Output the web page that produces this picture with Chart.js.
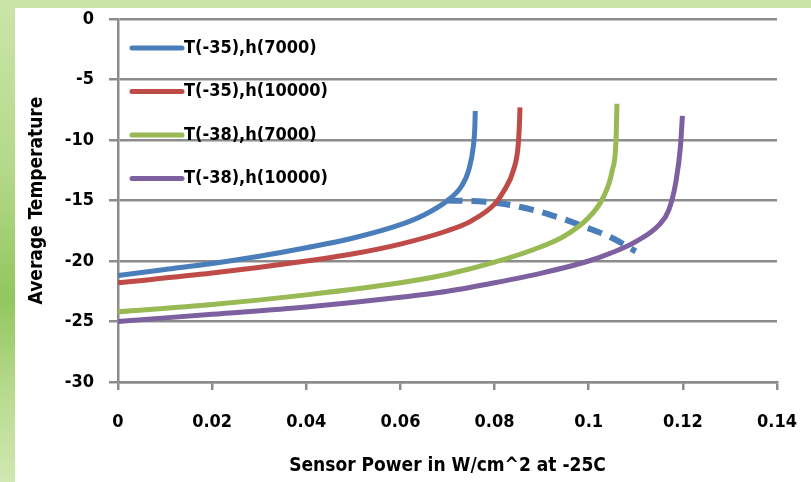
<!DOCTYPE html>
<html>
<head>
<meta charset="utf-8">
<script src="https://cdn.jsdelivr.net/npm/chart.js@4/dist/chart.umd.min.js"></script>
<style>
  body { margin: 0; width: 811px; height: 482px; overflow: hidden;
    background: linear-gradient(to bottom, #cbe5a9 0%, #b4d98a 35%, #92c65e 62%, #b9db90 82%, #d0e8b2 100%); }
  #panel { position: absolute; left: 15px; top: 8px; width: 796px; height: 474px; background: #fff; }
  #wrap { position: absolute; left: 0; top: 0; width: 811px; height: 482px; }
</style>
</head>
<body>
<div id="panel"></div>
<div id="wrap"><canvas id="chart" width="811" height="482"></canvas></div>
<script>
// Sensor power (W/cm^2) vs average temperature, four cases + dashed limit line
const seriesNames = ['T(-35),h(7000)', 'T(-35),h(10000)', 'T(-38),h(7000)', 'T(-38),h(10000)'];
const seriesColors = ['#4a7ebb', '#be4b48', '#98b954', '#7d60a0'];

const blueX = [0, 0.01, 0.02, 0.03, 0.04, 0.05, 0.06, 0.065, 0.07, 0.073, 0.0745, 0.0755, 0.0758, 0.0759];
const blueY = [-21.2, -20.7, -20.2, -19.6, -18.9, -18.1, -17.0, -16.2, -15.0, -13.8, -12.5, -10.5, -9.0, -7.6];

const redX = [0, 0.02, 0.04, 0.05, 0.06, 0.07, 0.075, 0.08, 0.082, 0.084, 0.085, 0.0853, 0.0854];
const redY = [-21.8, -21.0, -20.0, -19.4, -18.6, -17.5, -16.7, -15.3, -14.2, -12.5, -10.5, -8.5, -7.3];

const greenX = [0, 0.02, 0.04, 0.06, 0.07, 0.08, 0.09, 0.095, 0.1, 0.103, 0.105, 0.1058, 0.106];
const greenY = [-24.2, -23.6, -22.8, -21.8, -21.1, -20.1, -18.8, -17.9, -16.4, -14.8, -12.5, -10.0, -7.0];

const purpleX = [0, 0.02, 0.04, 0.06, 0.07, 0.08, 0.09, 0.1, 0.105, 0.11, 0.115, 0.117, 0.1185, 0.1195, 0.1199];
const purpleY = [-25.0, -24.4, -23.8, -23.0, -22.5, -21.8, -21.0, -20.0, -19.3, -18.4, -17.0, -15.8, -13.5, -10.5, -8.0];

const dashX = [0.070, 0.078, 0.085, 0.092, 0.1, 0.105, 0.110];
const dashY = [-15.0, -15.1, -15.5, -16.2, -17.3, -18.1, -19.2];

const xTicks = { min: 0, max: 0.14, step: 0.02 };
const yTicks = { min: -30, max: 0, step: 5 };

const FONT = "'Liberation Sans Narrow', 'DejaVu Sans Condensed', 'Open Sans', sans-serif";
const GRID = '#8c8c8c';

function pts(xs, ys) { return xs.map((x, i) => ({ x: x, y: ys[i] })); }

const allX = [blueX, redX, greenX, purpleX];
const allY = [blueY, redY, greenY, purpleY];

const datasets = seriesNames.map((name, i) => ({
  label: name,
  data: pts(allX[i], allY[i]),
  borderColor: seriesColors[i],
  borderWidth: 5,
  pointRadius: 0,
  cubicInterpolationMode: 'monotone',
  fill: false
}));
datasets.push({
  label: 'limit',
  data: pts(dashX, dashY),
  borderColor: '#4a7ebb',
  borderWidth: 6,
  borderDash: [15, 9],
  pointRadius: 0,
  cubicInterpolationMode: 'monotone',
  fill: false
});

// legend inside plot area, top left
const legendInside = {
  id: 'legendInside',
  afterDraw(chart) {
    const ctx = chart.ctx;
    const a = chart.chartArea;
    ctx.save();
    ctx.font = "bold 18px " + FONT;
    ctx.textBaseline = 'middle';
    seriesNames.forEach((name, i) => {
      const y = a.top + 29 + i * 43.5;
      ctx.strokeStyle = seriesColors[i];
      ctx.lineWidth = 5;
      ctx.lineCap = 'round';
      ctx.beginPath();
      ctx.moveTo(a.left + 14, y);
      ctx.lineTo(a.left + 64, y);
      ctx.stroke();
      ctx.fillStyle = '#000';
      ctx.fillText(name, a.left + 66, y);
    });
    ctx.restore();
  }
};

new Chart(document.getElementById('chart'), {
  type: 'line',
  data: { datasets: datasets },
  plugins: [legendInside],
  options: {
    responsive: false,
    animation: false,
    layout: { padding: { top: 19, right: 34, left: 0, bottom: 0 } },
    plugins: { legend: { display: false }, tooltip: { enabled: false } },
    scales: {
      x: {
        type: 'linear',
        min: xTicks.min, max: xTicks.max,
        afterFit(s) { s.height = 100; s.paddingLeft = 0; s.paddingRight = 0; },
        ticks: {
          stepSize: xTicks.step,
          color: '#000',
          padding: 22,
          maxRotation: 0,
          font: { family: FONT, size: 18, weight: 'bold' },
          callback: v => String(Number(v.toFixed(2)))
        },
        grid: { drawOnChartArea: false, color: GRID, lineWidth: 2.5, tickLength: 8 },
        border: { display: true, color: GRID, width: 2.5 },
        title: {
          display: true,
          text: 'Sensor Power in W/cm^2 at -25C',
          color: '#000',
          font: { family: FONT, size: 19, weight: 'bold' },
          padding: { top: 0, bottom: 5 }
        }
      },
      y: {
        min: yTicks.min, max: yTicks.max,
        afterFit(s) { s.width = 118; s.paddingTop = 0; s.paddingBottom = 0; },
        ticks: {
          stepSize: yTicks.step,
          color: '#000',
          padding: 15,
          font: { family: FONT, size: 18, weight: 'bold' }
        },
        grid: { color: GRID, lineWidth: 2.5, tickLength: 9 },
        border: { display: true, color: GRID, width: 2.5 },
        title: {
          display: true,
          text: 'Average Temperature',
          color: '#000',
          font: { family: FONT, size: 19, weight: 'bold' },
          padding: { top: 26, bottom: 0 }
        }
      }
    }
  }
});
</script>
</body>
</html>
